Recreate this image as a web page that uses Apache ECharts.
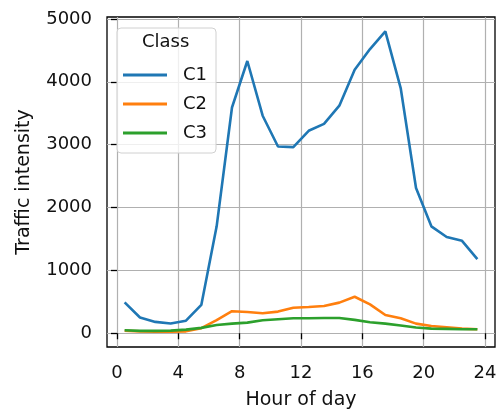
<!DOCTYPE html>
<html>
<head>
<meta charset="utf-8">
<script src="https://cdn.jsdelivr.net/npm/echarts@6/dist/echarts.min.js"></script>
<style>html,body{margin:0;padding:0;background:#fff}#c{width:497px;height:410px}</style>
</head>
<body>
<div id="c"></div>
<script>
const hours = [0.5,1.5,2.5,3.5,4.5,5.5,6.5,7.5,8.5,9.5,10.5,11.5,12.5,13.5,14.5,15.5,16.5,17.5,18.5,19.5,20.5,21.5,22.5,23.5];
const c1 = [490,250,180,155,200,450,1700,3590,4330,3460,2970,2960,3220,3330,3620,4190,4520,4800,3900,2310,1700,1530,1470,1180];
const c2 = [40,30,25,25,30,80,210,350,338,317,344,405,418,434,487,580,460,290,238,153,116,95,74,63];
const c3 = [48,37,37,42,58,85,132,153,169,206,222,238,239,243,243,212,175,153,122,90,74,69,63,63];
const xTicks = [0,4,8,12,16,20,24];
const yTicks = [0,1000,2000,3000,4000,5000];
const seriesNames = ['C1','C2','C3'];
const colors = ['#1f77b4','#ff7f0e','#2ca02c'];
const font = 'DejaVu Sans';

const chart = echarts.init(document.getElementById('c'), null, {renderer:'canvas'});
const mk = (vals) => hours.map((h,i)=>[h, vals[i]]);
const data = [c1,c2,c3];
chart.setOption({
  animation:false,
  grid:{left:107,right:2,top:17,bottom:63,outerBoundsMode:'none',containLabel:false,show:true,borderColor:'#000',borderWidth:1.3,backgroundColor:'transparent'},
  xAxis:{type:'value',min:-0.65,max:24.65,
    name:'Hour of day',nameLocation:'middle',nameGap:44,nameMoveOverlap:false,
    nameTextStyle:{fontFamily:font,fontSize:19,color:'#111'},
    axisLine:{show:false},
    axisTick:{show:true,length:6,inside:false,customValues:xTicks,lineStyle:{color:'#000',width:1.3}},
    axisLabel:{customValues:xTicks,margin:17,fontFamily:font,fontSize:18,color:'#111',formatter:v=>String(v)},
    splitLine:{show:true,lineStyle:{color:'#b0b0b0',width:1.2}}
  },
  yAxis:{type:'value',min:-219,max:5030,
    name:'Traffic intensity',nameLocation:'middle',nameGap:73,nameRotate:90,nameMoveOverlap:false,
    nameTextStyle:{fontFamily:font,fontSize:19,color:'#111'},
    axisLine:{show:false},
    axisTick:{show:true,length:6,customValues:yTicks,lineStyle:{color:'#000',width:1.3}},
    axisLabel:{customValues:yTicks,margin:15,fontFamily:font,fontSize:18,color:'#111',formatter:v=>String(v)},
    splitLine:{show:true,lineStyle:{color:'#b0b0b0',width:1.2}}
  },
  legend:{orient:'vertical',left:117,top:28,
    padding:[38,9,11,6],
    itemWidth:44,itemHeight:3,itemGap:11,icon:'rect',
    backgroundColor:'rgba(255,255,255,0.8)',borderColor:'#d0d0d0',borderWidth:1,borderRadius:4,
    textStyle:{fontFamily:font,fontSize:18,color:'#111',padding:[0,0,0,11]},
    data:seriesNames
  },
  graphic:[{type:'text',left:142,top:33,z:100,style:{text:'Class',fontFamily:font,fontSize:18,fill:'#111'}}],
  series: seriesNames.map((n,i)=>({name:n,type:'line',data:mk(data[i]),showSymbol:false,
    lineStyle:{color:colors[i],width:2.6},itemStyle:{color:colors[i]},z:3+i}))
});
</script>
</body>
</html>
